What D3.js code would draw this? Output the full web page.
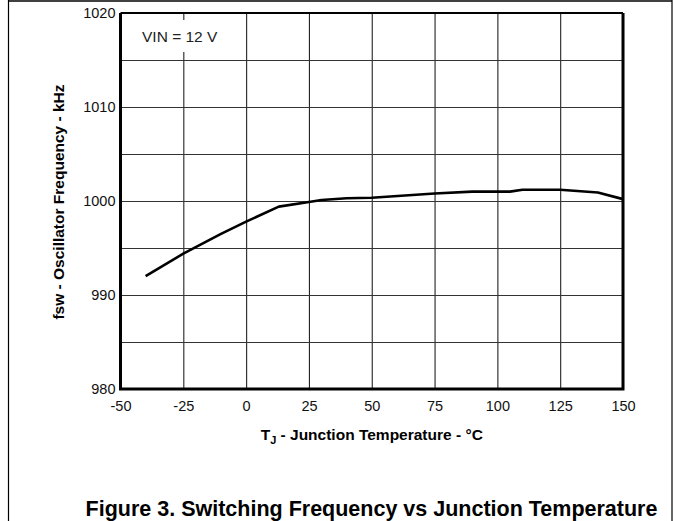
<!DOCTYPE html>
<html>
<head>
<meta charset="utf-8">
<script src="https://cdn.jsdelivr.net/npm/d3@7"></script>
<style>
  body { margin: 0; background: #fff; }
  svg text { font-family: "Liberation Sans", Arial, sans-serif; }
</style>
</head>
<body>
<svg id="chart"></svg>
<script>
// junction temperature (°C) and switching frequency (kHz)
const tempC = [-40, -25, -10, 0, 13, 25, 30, 40, 50, 75, 90, 105, 110, 125, 140, 150];
const fswKHz = [992.0, 994.4, 996.5, 997.8, 999.4, 999.9, 1000.1, 1000.3, 1000.35, 1000.8, 1001.0, 1001.0, 1001.2, 1001.2, 1000.9, 1000.2];
const xTicks = [-50, -25, 0, 25, 50, 75, 100, 125, 150];
const yTicks = [980, 990, 1000, 1010, 1020];
const yGrid = [980, 985, 990, 995, 1000, 1005, 1010, 1015, 1020];

const W = 673, H = 521;
const plotL = 120.5, plotR = 623, plotT = 13, plotB = 389;

let svg = d3.select("svg#chart")
  .attr("width", W)
  .attr("height", H);

// page frame
svg.append("line").attr("x1", 8).attr("x2", 672).attr("y1", 1).attr("y2", 1).attr("stroke", "#000").attr("stroke-width", 1.5);
svg.append("line").attr("x1", 8.5).attr("x2", 8.5).attr("y1", 0).attr("y2", H).attr("stroke", "#000").attr("stroke-width", 1.2);
svg.append("line").attr("x1", 672).attr("x2", 672).attr("y1", 0).attr("y2", H).attr("stroke", "#000").attr("stroke-width", 1.2);

const xScale = d3.scaleLinear().domain([-50, 150]).range([plotL, plotR]);
const yScale = d3.scaleLinear().domain([980, 1020]).range([plotB, plotT]);

// grid
svg.append("g").attr("transform", `translate(0,${plotB})`)
  .call(d3.axisBottom(xScale).tickValues(xTicks).tickSize(-(plotB - plotT)).tickFormat(""))
  .call(g => g.select(".domain").remove())
  .selectAll("line").attr("stroke", "#222").attr("stroke-width", 1.1);
svg.append("g").attr("transform", `translate(${plotL},0)`)
  .call(d3.axisLeft(yScale).tickValues(yGrid).tickSize(-(plotR - plotL)).tickFormat(""))
  .call(g => g.select(".domain").remove())
  .selectAll("line").attr("stroke", "#333").attr("stroke-width", 1.1);

// VIN label box hides the grid behind it
svg.append("rect").attr("x", 138).attr("y", 20).attr("width", 86).attr("height", 32).attr("fill", "#fff");
svg.append("text").attr("x", 142).attr("y", 42).attr("font-size", 15.5).attr("fill", "#222").text("VIN = 12 V");

// tick labels
svg.append("g").attr("transform", `translate(0,${plotB})`)
  .call(d3.axisBottom(xScale).tickValues(xTicks).tickSize(0).tickPadding(12).tickFormat(d => String(d)))
  .call(g => g.select(".domain").remove())
  .selectAll("text").attr("font-size", 14.5).attr("fill", "#111").attr("font-family", null);
svg.append("g").attr("transform", `translate(${plotL},0)`)
  .call(d3.axisLeft(yScale).tickValues(yTicks).tickSize(0).tickPadding(5).tickFormat(d => String(d)))
  .call(g => g.select(".domain").remove())
  .selectAll("text").attr("font-size", 14.5).attr("fill", "#111").attr("font-family", null);

// curve
const line = d3.line().x((d, i) => xScale(tempC[i])).y(d => yScale(d));
svg.append("path").datum(fswKHz).attr("d", line)
  .attr("fill", "none").attr("stroke", "#000").attr("stroke-width", 2.6).attr("stroke-linejoin", "round");

// plot border, heavy on left/bottom/right
svg.append("path")
  .attr("d", `M${plotL},${plotT}H${plotR}`).attr("stroke", "#000").attr("stroke-width", 2);
svg.append("path")
  .attr("d", `M${plotL},${plotT}V${plotB}H${plotR}V${plotT}`)
  .attr("fill", "none").attr("stroke", "#000").attr("stroke-width", 3);

// axis titles
const xt = svg.append("text").attr("x", (plotL + plotR) / 2).attr("y", 440)
  .attr("text-anchor", "middle").attr("font-size", 15.5).attr("font-weight", "bold");
xt.append("tspan").text("T");
xt.append("tspan").attr("font-size", 11).attr("dy", 4).text("J");
xt.append("tspan").attr("dy", -4).text(" - Junction Temperature - °C");

svg.append("text")
  .attr("transform", `translate(64,${(plotT + plotB) / 2 + 1}) rotate(-90)`)
  .attr("text-anchor", "middle").attr("font-size", 15.5).attr("font-weight", "bold")
  .text("fsw - Oscillator Frequency - kHz");

// caption
svg.append("text").attr("x", 371.5).attr("y", 515.5)
  .attr("text-anchor", "middle").attr("font-size", 21.5).attr("font-weight", "bold")
  .text("Figure 3. Switching Frequency vs Junction Temperature");
</script>
</body>
</html>
